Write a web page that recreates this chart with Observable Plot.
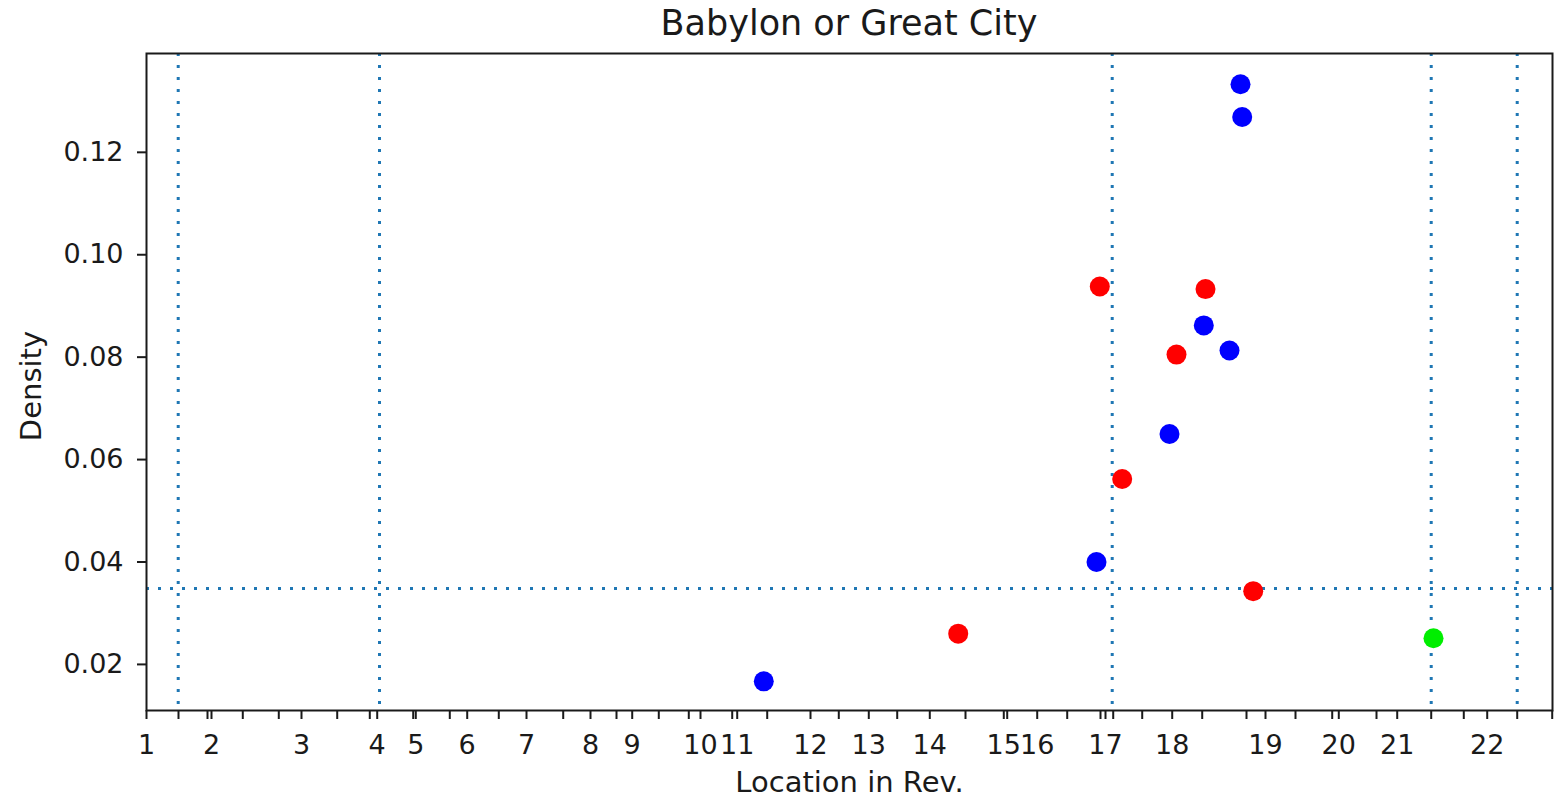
<!DOCTYPE html>
<html>
<head>
<meta charset="utf-8">
<script src="https://cdn.jsdelivr.net/npm/d3@7"></script>
<script src="https://cdn.jsdelivr.net/npm/@observablehq/plot@0.6"></script>
<style>
  html, body { margin: 0; padding: 0; background: #fff; }
  #title {
    width: 1560px; box-sizing: border-box; padding-left: 146px; padding-right: 8px;
    height: 46px; line-height: 46px; text-align: center;
    font-family: "DejaVu Sans", sans-serif; font-size: 35px; color: #1a1a1a;
  }
</style>
</head>
<body>
<div id="title">Babylon or Great City</div>
<div id="chart"></div>
<script>
// Chapter tick positions (location in text, approximate word index) and labels
const chapterLabels = ["1","2","3","4","5","6","7","8","9","10","11","12","13","14","15","16","17","18","19","20","21","22"];
const chapterStarts = [0, 455, 1085, 1615, 1885, 2245, 2660, 3108, 3400, 3878, 4135, 4648, 5056, 5483, 6001, 6235, 6713, 7180, 7833, 8346, 8755, 9385];
const minorTicks = [224, 427, 674, 926, 1335, 1563, 1867, 2123, 2466, 2917, 3290, 3586, 3796, 4100, 4345, 4846, 5255, 5733, 6025, 6445, 6678, 6767, 6970, 7390, 7700, 8043, 8300, 8610, 8993, 9221, 9595, 9840];
const textEnd = 9842;

// Series
const blueX = [4321, 6650, 7161, 7401, 7581, 7658, 7670];
const blueY = [0.0167, 0.0400, 0.0650, 0.0862, 0.0813, 0.1333, 0.1269];
const redX = [5682, 6673, 6830, 7210, 7413, 7747];
const redY = [0.0260, 0.0938, 0.0562, 0.0805, 0.0933, 0.0343];
const greenX = [9009];
const greenY = [0.0251];

// Reference lines
const sectionLines = [222, 1631, 6760, 8993, 9595];
const threshold = 0.0348;

// Y axis
const yTicks = [0.02, 0.04, 0.06, 0.08, 0.10, 0.12];
const yDomain = [0.0110, 0.1393];

const toPts = (xs, ys) => xs.map((x, i) => ({x, y: ys[i]}));
const blue = toPts(blueX, blueY);
const red = toPts(redX, redY);
const green = toPts(greenX, greenY);

const ink = "#1a1a1a";
const dotted = {stroke: "#1f77b4", strokeWidth: 3, strokeDasharray: "3,9"};

const chart = Plot.plot({
  width: 1560,
  height: 753,
  marginLeft: 146,
  marginRight: 8,
  marginTop: 7,
  marginBottom: 89,
  x: {domain: [0, textEnd]},
  y: {domain: yDomain},
  style: {fontFamily: "DejaVu Sans", background: "white", color: ink},
  marks: [
    Plot.ruleX(sectionLines, dotted),
    Plot.ruleY([threshold], dotted),
    Plot.dot(blue, {x: "x", y: "y", r: 10, fill: "#0000ff"}),
    Plot.dot(red, {x: "x", y: "y", r: 10, fill: "#ff0000"}),
    Plot.dot(green, {x: "x", y: "y", r: 10, fill: "#00ee00"}),
    Plot.frame({stroke: ink, strokeWidth: 2}),
    Plot.axisY({ticks: yTicks, tickFormat: ".2f", tickSize: 9, tickPadding: 14, fontSize: 27, label: null, stroke: ink, strokeWidth: 2, color: ink}),
    Plot.axisX({ticks: chapterStarts, tickFormat: d => chapterLabels[chapterStarts.indexOf(d)], tickSize: 9, tickPadding: 15, fontSize: 27, label: null, stroke: ink, strokeWidth: 2, color: ink}),
    Plot.axisX({ticks: minorTicks, tickFormat: () => "", tickSize: 9, label: null, stroke: ink, strokeWidth: 2, color: ink}),
    Plot.text(["Location in Rev."], {frameAnchor: "bottom", lineAnchor: "bottom", textAnchor: "middle", dy: 81, fontSize: 29, fill: ink}),
    Plot.text(["Density"], {frameAnchor: "left", textAnchor: "middle", lineAnchor: "middle", rotate: -90, dx: -115, dy: 4, fontSize: 29, fill: ink})
  ]
});
document.getElementById("chart").appendChild(chart);
</script>
</body>
</html>
